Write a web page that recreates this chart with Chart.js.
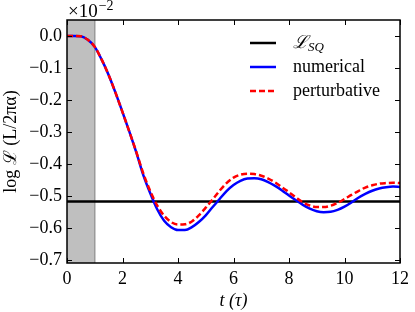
<!DOCTYPE html>
<html>
<head>
<meta charset="utf-8">
<script src="https://cdn.jsdelivr.net/npm/chart.js@4.4.1/dist/chart.umd.min.js"></script>
<style>
  html, body { margin: 0; padding: 0; background: #fff; }
  #wrap { width: 415px; height: 312px; }
</style>
</head>
<body>
<div id="wrap"><canvas id="decayChart"></canvas></div>
<script>
// --- data (values in units of 1e-2) ---
const times = [0, 0.25, 0.5, 0.75, 1, 1.25, 1.5, 1.75, 2, 2.25, 2.5, 2.75, 3, 3.25, 3.5, 3.75,
  4, 4.25, 4.5, 4.75, 5, 5.25, 5.5, 5.75, 6, 6.25, 6.5, 6.75, 7, 7.25, 7.5, 7.75,
  8, 8.25, 8.5, 8.75, 9, 9.25, 9.5, 9.75, 10, 10.25, 10.5, 10.75, 11, 11.25, 11.5, 11.75, 12];
const numerical = [0, 0, -0.001, -0.012, -0.034, -0.074, -0.122, -0.178, -0.238, -0.300, -0.365, -0.435,
  -0.492, -0.542, -0.578, -0.598, -0.607, -0.607, -0.598, -0.582, -0.561, -0.535, -0.510, -0.485,
  -0.466, -0.453, -0.446, -0.445, -0.448, -0.457, -0.469, -0.483, -0.499, -0.514, -0.528, -0.540,
  -0.548, -0.551, -0.550, -0.544, -0.534, -0.521, -0.506, -0.494, -0.484, -0.477, -0.473, -0.471, -0.472];
const perturbative = [0, 0, -0.001, -0.012, -0.034, -0.074, -0.122, -0.178, -0.238, -0.300, -0.363, -0.430,
  -0.485, -0.530, -0.562, -0.582, -0.590, -0.589, -0.580, -0.561, -0.537, -0.511, -0.484, -0.460,
  -0.443, -0.434, -0.431, -0.432, -0.437, -0.446, -0.458, -0.473, -0.489, -0.505, -0.520, -0.530,
  -0.535, -0.535, -0.531, -0.522, -0.510, -0.497, -0.485, -0.474, -0.467, -0.462, -0.460, -0.459, -0.460];
const lSQ = -0.518;
const shadeRange = [0, 1];
const xTicks = [0, 2, 4, 6, 8, 10, 12];
const yTicks = [0, -0.1, -0.2, -0.3, -0.4, -0.5, -0.6, -0.7];

const FONT = "'Liberation Serif', 'DejaVu Serif', serif";

const fmtY = v => (v < 0 ? '\u2212' : '') + Math.abs(v).toFixed(1);

// grey band, frame, inward ticks, offset text and legend
const decor = {
    id: 'decor',
    beforeDatasetsDraw(chart) {
        const { ctx, chartArea: a, scales: { x } } = chart;
        const x0 = x.getPixelForValue(shadeRange[0]);
        const x1 = x.getPixelForValue(shadeRange[1]);
        ctx.save();
        ctx.fillStyle = '#bfbfbf';
        ctx.fillRect(x0, a.top, x1 - x0, a.bottom - a.top);
        ctx.strokeStyle = '#9a9a9a';
        ctx.lineWidth = 1.5;
        ctx.beginPath();
        ctx.moveTo(x1, a.top);
        ctx.lineTo(x1, a.bottom);
        ctx.stroke();
        ctx.restore();
    },
    afterDraw(chart) {
        const { ctx, chartArea: a, scales: { x, y } } = chart;
        ctx.save();
        ctx.strokeStyle = '#000';
        ctx.lineWidth = 1;
        const tl = 5;
        ctx.beginPath();
        xTicks.forEach(v => {
            const px = Math.round(x.getPixelForValue(v)) + 0.5;
            ctx.moveTo(px, a.bottom); ctx.lineTo(px, a.bottom - tl);
            ctx.moveTo(px, a.top); ctx.lineTo(px, a.top + tl);
        });
        yTicks.forEach(v => {
            const py = Math.round(y.getPixelForValue(v)) + 0.5;
            ctx.moveTo(a.left, py); ctx.lineTo(a.left + tl, py);
            ctx.moveTo(a.right, py); ctx.lineTo(a.right - tl, py);
        });
        ctx.stroke();

        ctx.lineWidth = 1.5;
        ctx.strokeRect(a.left, a.top, a.right - a.left, a.bottom - a.top);

        // offset text  x10^-2
        ctx.fillStyle = '#000';
        ctx.textBaseline = 'alphabetic';
        ctx.textAlign = 'left';
        ctx.font = '19px ' + FONT;
        ctx.fillText('\u00d710', a.left + 1, a.top - 3);
        const w = ctx.measureText('\u00d710').width;
        ctx.font = '14px ' + FONT;
        ctx.fillText('\u22122', a.left + 2 + w, a.top - 10);

        // legend
        const rows = [
            { color: '#000', dash: [], label: 'sq' },
            { color: '#0000ff', dash: [], label: 'numerical' },
            { color: '#ff0000', dash: [6, 3], label: 'perturbative' }
        ];
        rows.forEach((r, i) => {
            const ly = a.top + 23 + i * 24;
            ctx.strokeStyle = r.color;
            ctx.lineWidth = 2.5;
            ctx.setLineDash(r.dash);
            ctx.beginPath();
            ctx.moveTo(250, ly);
            ctx.lineTo(276, ly);
            ctx.stroke();
            ctx.setLineDash([]);
            ctx.fillStyle = '#000';
            ctx.textBaseline = 'middle';
            if (r.label === 'sq') {
                ctx.font = 'italic 18px ' + FONT;
                ctx.fillText('\u2112', 293, ly);
                const lw = ctx.measureText('\u2112').width;
                ctx.font = 'italic 13px ' + FONT;
                ctx.fillText('SQ', 293 + lw, ly + 5);
            } else {
                ctx.font = '18px ' + FONT;
                ctx.fillText(r.label, 293, ly);
            }
        });
        ctx.restore();
    }
};

const toPoints = vals => times.map((t, i) => ({ x: t, y: vals[i] }));

new Chart(document.getElementById('decayChart'), {
    type: 'line',
    data: {
        datasets: [
            {
                label: 'L_SQ',
                data: [{ x: xTicks[0], y: lSQ }, { x: xTicks[xTicks.length - 1], y: lSQ }],
                borderColor: '#000',
                borderWidth: 2.5,
                pointRadius: 0,
                order: 3
            },
            {
                label: 'numerical',
                data: toPoints(numerical),
                borderColor: '#0000ff',
                borderWidth: 2.5,
                pointRadius: 0,
                cubicInterpolationMode: 'monotone',
                order: 2
            },
            {
                label: 'perturbative',
                data: toPoints(perturbative),
                borderColor: '#ff0000',
                borderWidth: 2.5,
                borderDash: [6, 3],
                pointRadius: 0,
                cubicInterpolationMode: 'monotone',
                order: 1
            }
        ]
    },
    options: {
        responsive: true,
        maintainAspectRatio: false,
        animation: false,
        layout: { padding: { top: 20, right: 15, left: 0, bottom: 0 } },
        plugins: {
            legend: { display: false },
            tooltip: { enabled: false }
        },
        scales: {
            x: {
                type: 'linear',
                min: 0,
                max: 12,
                afterBuildTicks: s => { s.ticks = xTicks.map(v => ({ value: v })); },
                afterFit: s => { s.height = 49; },
                grid: { display: false, drawTicks: false },
                border: { display: false },
                ticks: {
                    color: '#000',
                    padding: 5,
                    maxRotation: 0,
                    font: { family: FONT, size: 18 },
                    callback: v => String(v)
                },
                title: {
                    display: true,
                    text: 't (\u03c4)',
                    color: '#000',
                    padding: { top: 0, bottom: 0 },
                    font: { family: FONT, size: 18, style: 'italic' }
                }
            },
            y: {
                min: -0.71,
                max: 0.05,
                afterBuildTicks: s => { s.ticks = yTicks.map(v => ({ value: v })); },
                afterFit: s => { s.width = 67; },
                grid: { display: false, drawTicks: false },
                border: { display: false },
                ticks: {
                    color: '#000',
                    padding: 5,
                    font: { family: FONT, size: 18 },
                    callback: v => fmtY(v)
                },
                title: {
                    display: true,
                    text: 'log \u2112 (L/2\u03c0\u03b1)',
                    color: '#000',
                    padding: { top: 0, bottom: 0 },
                    font: { family: FONT, size: 18 }
                }
            }
        }
    },
    plugins: [decor]
});
</script>
</body>
</html>
